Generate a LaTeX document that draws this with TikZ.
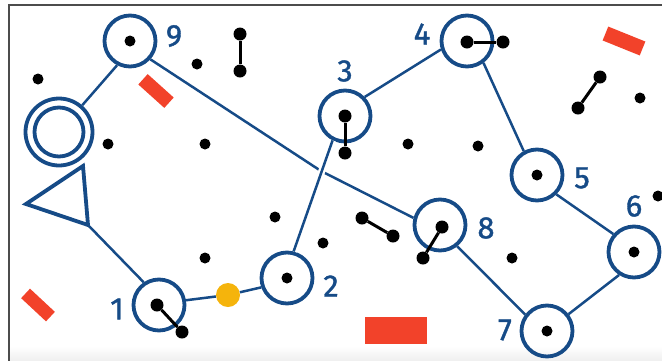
\documentclass[tikz,border=0pt]{standalone}
\usepackage{fontspec}
\setsansfont{Fira Sans}
\newfontfamily\lblfont{Fira Sans}[FakeBold=1.2]
\definecolor{routeblue}{RGB}{22,75,135}
\definecolor{boxred}{RGB}{242,66,42}
\definecolor{coinyellow}{RGB}{245,180,12}
\begin{document}
\begin{tikzpicture}[x=1pt,y=-1pt,
    hub/.style={circle,draw=routeblue,line width=3.8pt,minimum size=51pt,inner sep=0pt},
    dotpt/.style={circle,fill=black,minimum size=11pt,inner sep=0pt},
    bigdot/.style={circle,fill=black,minimum size=13pt,inner sep=0pt},
    numlbl/.style={text=routeblue,font=\lblfont\fontsize{31}{31}\selectfont,inner sep=0pt},
    route/.style={draw=routeblue,line width=2.5pt},
    link/.style={draw=black,line width=3pt},
    redbox/.style={fill=boxred,minimum width=35pt,minimum height=14pt,inner sep=0pt}]
    \useasboundingbox (0,0) rectangle (662,360);
    % frame
    \shade[top color=white,bottom color=gray!12] (10,346) rectangle (662,360);
    \draw[gray!60!black,line width=2pt] (9,362) -- (9,5) -- (664,5);
    % red boxes
    \node[redbox,rotate=-42] (r1) at (156,91) {};
    \node[redbox,minimum width=34pt,minimum height=13pt,rotate=-43] (r2) at (38,305) {};
    \node[redbox,minimum width=40pt,minimum height=15pt,rotate=-22] (r3) at (624,41) {};
    \node[redbox,minimum width=62pt,minimum height=27pt] (r4) at (396,330) {};
    % start: double circle and triangle
    \node[hub,minimum size=67pt] (home) at (59,132) {};
    \node[hub,minimum size=49pt] (homein) at (59,132) {};
    \draw[routeblue,line width=3.8pt] (26,204) -- (83,166) -- (88,225) -- cycle;
    \coordinate (tri) at (88,225);
    % stops
    \node[hub] (n1) at (159,305) {};
    \node[hub] (n2) at (287,278) {};
    \node[hub] (n3) at (345,116) {};
    \node[hub] (n4) at (467,41) {};
    \node[hub] (n5) at (537,175) {};
    \node[hub] (n6) at (634,252) {};
    \node[hub] (n7) at (547,331) {};
    \node[hub] (n8) at (440,225) {};
    \node[hub] (n9) at (130,41) {};
    \node[circle,fill=coinyellow,minimum size=24pt,inner sep=0pt] (coin) at (228,295) {};
    % labels
    \node[numlbl] (l1) at (117,309) {1};
    \node[numlbl] (l2) at (331,286) {2};
    \node[numlbl] (l3) at (345,71) {3};
    \node[numlbl] (l4) at (422,34) {4};
    \node[numlbl] (l5) at (582,178) {5};
    \node[numlbl] (l6) at (634,206) {6};
    \node[numlbl] (l7) at (505,330) {7};
    \node[numlbl] (l8) at (486,228) {8};
    \node[numlbl] (l9) at (174,36) {9};
    % route
    \coordinate (cross) at (321,171);
    \draw[route] (n9.-118) -- (home.49);
    \draw[route] (n9.-42) -- (cross) -- (n8.165);
    \draw[route] (tri) -- (n1.124);
    \draw[route] (n1.10) -- (coin) -- (n2.200);
    \draw[route,preaction={draw=white,line width=7pt}] (n2.76) -- (n3.-117);
    \draw[route] (n3.44) -- (n4.198);
    \draw[route] (n4.-53) -- (n5.119);
    \draw[route] (n5.-45) -- (n6.139);
    \draw[route] (n6.-123) -- (n7.38);
    \draw[route] (n8.-51) -- (n7.143);
    % dots inside stops
    \node[dotpt] (c2) at (n2) {};
    \node[dotpt] (c5) at (n5) {};
    \node[dotpt] (c6) at (n6) {};
    \node[dotpt] (c7) at (n7) {};
    \node[dotpt] (c9) at (n9) {};
    % linked pairs
    \node[bigdot] (p1a) at (157,305) {};
    \node[bigdot] (p1b) at (182,332) {};
    \node[bigdot] (p3a) at (345,116) {};
    \node[bigdot] (p3b) at (345,153) {};
    \node[bigdot] (p4a) at (467,42) {};
    \node[bigdot] (p4b) at (503,42) {};
    \node[bigdot] (p8a) at (442,227) {};
    \node[bigdot] (p8b) at (423,258) {};
    \node[bigdot] (pa) at (240,34) {};
    \node[bigdot] (pb) at (240,71) {};
    \node[bigdot] (pc) at (600,77) {};
    \node[bigdot] (pd) at (578,108) {};
    \node[bigdot] (pe) at (362,218) {};
    \node[bigdot] (pf) at (393,236) {};
    \draw[link] (p1a) -- (p1b);
    \draw[link] (p3a) -- (p3b);
    \draw[link] (p4a) -- (p4b);
    \draw[link] (p8a) -- (p8b);
    \draw[link] (pa) -- (pb);
    \draw[link] (pc) -- (pd);
    \draw[link] (pe) -- (pf);
    % loose dots
    \foreach \x/\y [count=\i] in {38/79,197/64,108/144,205/144,275/217,323/243,
        205/258,408/144,478/146,640/98,658/196,512/258}
        \node[dotpt] (d\i) at (\x,\y) {};
\end{tikzpicture}
\end{document}
